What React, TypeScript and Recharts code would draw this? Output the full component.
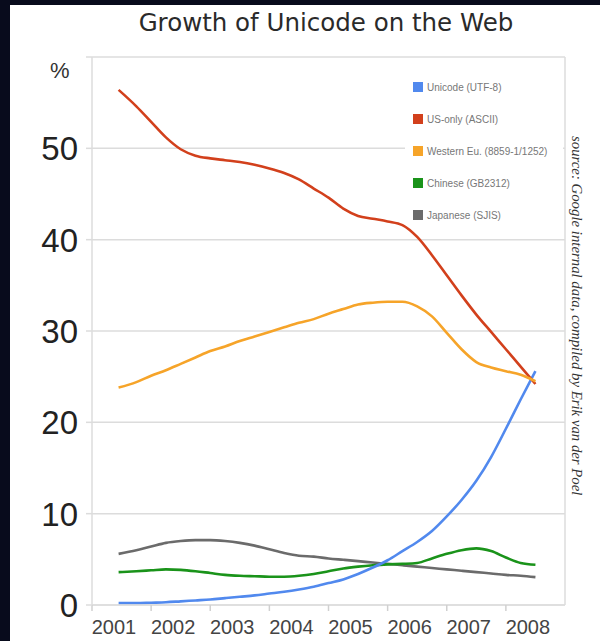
import React from "react";
import { LineChart, Line, XAxis, YAxis, CartesianGrid, ReferenceLine } from "recharts";

const times = [2001.45, 2001.75, 2002, 2002.25, 2002.5, 2002.75, 2003, 2003.25, 2003.5, 2003.75, 2004, 2004.25, 2004.5, 2004.75, 2005, 2005.25, 2005.5, 2005.75, 2006, 2006.25, 2006.5, 2006.75, 2007, 2007.25, 2007.5, 2007.75, 2008, 2008.25, 2008.5];
const unicode = [0.2, 0.2, 0.25, 0.3, 0.4, 0.5, 0.6, 0.75, 0.9, 1.05, 1.25, 1.45, 1.7, 2.0, 2.4, 2.8, 3.4, 4.1, 4.9, 5.9, 6.9, 8.1, 9.7, 11.5, 13.6, 16.2, 19.3, 22.5, 25.6];
const usOnly = [56.4, 54.6, 52.9, 51.2, 49.9, 49.2, 48.9, 48.7, 48.5, 48.2, 47.8, 47.3, 46.6, 45.6, 44.6, 43.4, 42.6, 42.3, 42.0, 41.6, 40.3, 38.3, 36.1, 33.9, 31.8, 29.9, 28.0, 26.1, 24.2];
const western = [23.8, 24.4, 25.1, 25.7, 26.4, 27.1, 27.8, 28.3, 28.9, 29.4, 29.9, 30.4, 30.9, 31.3, 31.9, 32.4, 32.9, 33.1, 33.2, 33.2, 32.7, 31.6, 29.8, 28.0, 26.6, 26.0, 25.6, 25.2, 24.5];
const chinese = [3.6, 3.7, 3.8, 3.9, 3.85, 3.7, 3.5, 3.3, 3.2, 3.15, 3.1, 3.1, 3.2, 3.4, 3.7, 4.0, 4.2, 4.35, 4.45, 4.5, 4.6, 5.1, 5.6, 6.0, 6.2, 5.9, 5.2, 4.6, 4.4];
const japanese = [5.6, 6.0, 6.4, 6.8, 7.0, 7.1, 7.1, 7.0, 6.8, 6.5, 6.1, 5.7, 5.4, 5.3, 5.1, 4.95, 4.8, 4.65, 4.5, 4.35, 4.2, 4.05, 3.9, 3.75, 3.6, 3.45, 3.3, 3.2, 3.05];

const xTicks = [2001, 2002, 2003, 2004, 2005, 2006, 2007, 2008];
const yTicks = [0, 10, 20, 30, 40, 50, 60];

const seriesNames = ["Unicode (UTF-8)", "US-only (ASCII)", "Western Eu. (8859-1/1252)", "Chinese (GB2312)", "Japanese (SJIS)"];
const seriesKeys = ["unicode", "usOnly", "western", "chinese", "japanese"];
const seriesColors = ["#5189ee", "#d2401c", "#f6a429", "#1a931a", "#6b6b6b"];

const data = times.map((t, i) => ({
  t,
  unicode: unicode[i],
  usOnly: usOnly[i],
  western: western[i],
  chinese: chinese[i],
  japanese: japanese[i],
}));

const XTick = (props: any) => {
  const { x, y, payload } = props;
  return (
    <text x={x + 22} y={y + 21} textAnchor="middle" fontSize={20} fill="#444" fontFamily="Liberation Sans, Arial, sans-serif">
      {payload.value}
    </text>
  );
};

const YTick = (props: any) => {
  const { x, y, payload } = props;
  if (payload.value === 60) return null;
  return (
    <text x={x - 6} y={y + 12} textAnchor="end" fontSize={33} fill="#222" fontFamily="Liberation Sans, Arial, sans-serif">
      {payload.value}
    </text>
  );
};

const LegendBox = () => (
  <div style={{ position: "absolute", left: 405, top: 74, background: "#fff", width: 158, height: 148 }}>
    {seriesNames.map((n, i) => (
      <div key={n} style={{ position: "absolute", left: 8, top: 7 + i * 32, display: "flex", alignItems: "center", height: 12 }}>
        <div style={{ width: 10, height: 10, background: seriesColors[i], marginRight: 4 }} />
        <span style={{ fontSize: 10, color: "#777", fontFamily: "Liberation Sans, Arial, sans-serif", whiteSpace: "nowrap" }}>{n}</span>
      </div>
    ))}
  </div>
);

export default function App() {
  const order = [4, 3, 0, 1, 2];
  return (
    <div style={{ position: "fixed", left: 0, top: 0, width: 600, height: 641, background: "#080b1c", overflow: "hidden" }}>
      <div style={{ position: "absolute", left: 10, top: 5, width: 590, height: 636, background: "#fff" }} />
      <div style={{ position: "absolute", left: 0, top: 0 }}>
        <LineChart width={600} height={641} data={data} margin={{ top: 57, right: 35, bottom: 0, left: 0 }}>
          <CartesianGrid horizontal={true} vertical={false} stroke="#dcdcdc" strokeWidth={1.5} />
          <XAxis
            dataKey="t"
            type="number"
            domain={[2001, 2009]}
            ticks={xTicks}
            height={36}
            tick={<XTick />}
            tickSize={6}
            axisLine={{ stroke: "#dcdcdc", strokeWidth: 1.5 }}
            tickLine={{ stroke: "#d0d0d0", strokeWidth: 1.5 }}
            interval={0}
          />
          <YAxis
            type="number"
            domain={[0, 60]}
            ticks={yTicks}
            width={92}
            tick={<YTick />}
            tickSize={6}
            axisLine={{ stroke: "#dcdcdc", strokeWidth: 1.5 }}
            tickLine={{ stroke: "#dcdcdc", strokeWidth: 1.5 }}
            interval={0}
          />
          <ReferenceLine x={2009} stroke="#dcdcdc" strokeWidth={1.5} />
          {order.map((i) => (
            <Line
              key={seriesKeys[i]}
              dataKey={seriesKeys[i]}
              name={seriesNames[i]}
              type="monotone"
              stroke={seriesColors[i]}
              strokeWidth={2.6}
              dot={false}
              isAnimationActive={false}
            />
          ))}
        </LineChart>
      </div>
      <LegendBox />
      <div style={{ position: "absolute", left: 0, width: 652, top: 8, textAlign: "center", fontSize: 24.5, color: "#2a2a2a", fontFamily: "DejaVu Sans, Verdana, sans-serif" }}>
        Growth of Unicode on the Web
      </div>
      <div style={{ position: "absolute", left: 50, top: 58, fontSize: 22, color: "#333", fontFamily: "Liberation Sans, Arial, sans-serif" }}>%</div>
      <div style={{ position: "absolute", left: 568, top: 136, writingMode: "vertical-rl", fontSize: 14.8, fontStyle: "italic", color: "#333", fontFamily: "Liberation Serif, Times New Roman, serif", whiteSpace: "nowrap" }}>
        source: Google internal data, compiled by Erik van der Poel
      </div>
    </div>
  );
}
